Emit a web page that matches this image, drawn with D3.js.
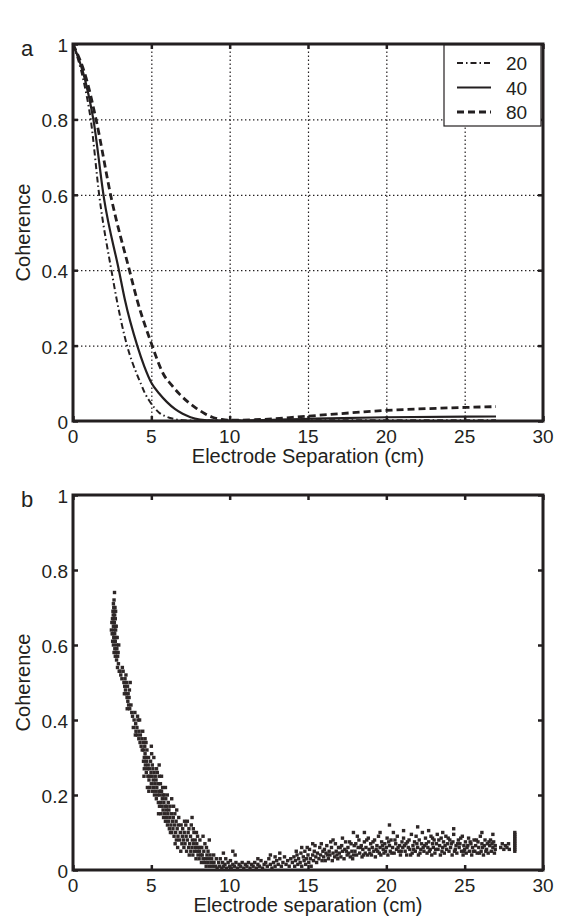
<!DOCTYPE html>
<html><head><meta charset="utf-8">
<script src="https://cdn.jsdelivr.net/npm/d3@7"></script>
<style>
body{margin:0;background:#fff;}
text{font-family:"Liberation Sans",Arial,Helvetica,sans-serif;fill:#231f20;}
</style>
</head><body>
<svg id="c" width="562" height="921"></svg>
<script>
// ---------- data ----------
const xTicks = [0, 5, 10, 15, 20, 25, 30];
const yTicks = [0, 0.2, 0.4, 0.6, 0.8, 1];
const yTickLabels = ["0", "0.2", "0.4", "0.6", "0.8", "1"];
const legendLabels = ["20", "40", "80"];

const sep20 = [0, 0.66, 1.13, 1.7, 2.45, 2.8, 3.45, 3.75, 4.06, 4.35, 4.6, 4.85, 5.1, 5.5, 6.0, 6.5, 7.0, 8.0, 10, 15, 20, 27];
const coh20 = [1, 0.905, 0.8, 0.59, 0.4, 0.32, 0.2, 0.16, 0.126, 0.097, 0.073, 0.055, 0.04, 0.022, 0.011, 0.005, 0.002, 0.001, 0.001, 0.002, 0.002, 0.002];

const sep40 = [0, 0.77, 1.3, 1.98, 2.93, 3.32, 4.1, 4.55, 5.02, 5.5, 6.0, 6.5, 7.0, 7.5, 8.1, 9.0, 10, 15, 20, 27];
const coh40 = [1, 0.905, 0.8, 0.59, 0.4, 0.32, 0.2, 0.145, 0.1, 0.073, 0.05, 0.032, 0.019, 0.01, 0.004, 0.001, 0.001, 0.006, 0.01, 0.012];

const sep80 = [0, 0.87, 1.47, 2.45, 3.6, 4.1, 5.05, 5.4, 5.75, 6.3, 6.83, 7.35, 7.9, 8.4, 8.9, 9.5, 10, 12, 15, 20, 25, 27];
const coh80 = [1, 0.905, 0.8, 0.59, 0.4, 0.32, 0.2, 0.16, 0.126, 0.095, 0.07, 0.05, 0.033, 0.02, 0.01, 0.004, 0.002, 0.004, 0.013, 0.028, 0.036, 0.038];

const scatterPoints = [
[2.65,0.74],[2.62,0.72],[2.58,0.71],[2.6,0.70],[2.55,0.69],[2.63,0.69],[2.57,0.68],[2.66,0.68],[2.52,0.67],[2.6,0.67],[2.7,0.67],[2.55,0.66],[2.64,0.66],[2.58,0.65],[2.68,0.65],[2.62,0.64],[2.72,0.64],[2.56,0.63],[2.66,0.63],[2.6,0.62],[2.75,0.62],[2.64,0.61],[2.7,0.61],[2.58,0.60],[2.78,0.60],[2.67,0.59],[2.62,0.58],[2.74,0.58],[2.8,0.59],[2.7,0.57],[2.85,0.57],[2.78,0.56],[2.9,0.55],[2.84,0.54],[2.95,0.53],
[2.48,0.66],[2.5,0.63],[2.53,0.61],[2.68,0.70],[2.72,0.69],[2.76,0.65],[2.82,0.62],[2.88,0.58],[2.92,0.6],[2.45,0.64],
[3.0,0.53],[3.05,0.52],[3.12,0.51],[3.2,0.53],[3.25,0.50],[3.3,0.49],[3.35,0.48],[3.32,0.51],[3.4,0.47],[3.42,0.50],[3.45,0.46],[3.48,0.49],[3.5,0.45],[3.52,0.47],[3.55,0.44],[3.58,0.46],[3.62,0.43],[3.6,0.48],[3.38,0.52],[3.7,0.44],[3.75,0.42],[3.8,0.41],
[3.15,0.54],[3.28,0.47],[3.46,0.43],[3.65,0.5],[3.85,0.38],[3.98,0.36],[4.25,0.4],[4.45,0.37],
[3.9,0.40],[3.95,0.42],[4.0,0.39],[4.02,0.37],[4.08,0.38],[4.1,0.36],[4.15,0.40],[4.2,0.35],[4.22,0.37],[4.28,0.34],[4.3,0.36],[4.35,0.33],[4.4,0.35],[4.42,0.32],[4.12,0.41],
[4.5,0.34],[4.52,0.32],[4.55,0.30],[4.5,0.29],[4.58,0.33],[4.6,0.31],[4.62,0.28],[4.55,0.27],[4.65,0.30],[4.68,0.26],[4.7,0.29],[4.72,0.32],[4.75,0.27],[4.78,0.25],[4.8,0.28],[4.82,0.30],[4.85,0.24],[4.88,0.27],[4.9,0.25],[4.92,0.22],[4.95,0.29],[4.98,0.26],[5.0,0.23],[5.02,0.31],[5.05,0.25],[5.08,0.21],[5.1,0.27],[5.12,0.24],[5.15,0.22],[5.18,0.26],[5.2,0.20],[5.22,0.23],[5.25,0.25],[5.28,0.21],[4.6,0.35],[5.0,0.33],[4.75,0.22],
[4.53,0.25],[4.66,0.34],[4.84,0.21],[5.06,0.28],[5.16,0.3],[5.33,0.27],[5.46,0.15],[5.6,0.21],[5.74,0.2],[5.9,0.22],
[5.3,0.24],[5.32,0.19],[5.35,0.22],[5.38,0.26],[5.4,0.20],[5.42,0.23],[5.45,0.18],[5.48,0.21],[5.5,0.25],[5.52,0.17],[5.55,0.20],[5.58,0.23],[5.6,0.18],[5.62,0.15],[5.65,0.21],[5.68,0.17],[5.7,0.19],[5.72,0.22],[5.75,0.16],[5.78,0.14],[5.8,0.18],[5.82,0.20],[5.85,0.15],[5.88,0.17],[5.9,0.13],[5.92,0.19],[5.95,0.16],[5.98,0.14],[5.5,0.28],[5.65,0.25],
[6.0,0.17],[6.03,0.12],[6.05,0.15],[6.08,0.18],[6.1,0.13],[6.12,0.16],[6.15,0.11],[6.18,0.14],[6.2,0.17],[6.25,0.12],[6.28,0.15],[6.3,0.10],[6.35,0.13],[6.38,0.11],[6.4,0.14],[6.45,0.09],[6.48,0.12],[6.5,0.15],[6.55,0.10],[6.58,0.13],[6.6,0.08],[6.65,0.11],[6.7,0.09],[6.72,0.12],[6.75,0.14],[6.8,0.08],[6.85,0.10],[6.9,0.12],[6.95,0.07],[6.98,0.09],[6.62,0.16],[6.3,0.19],
[6.02,0.2],[6.22,0.1],[6.42,0.17],[6.52,0.07],[6.68,0.06],[6.88,0.05],[7.12,0.13],[7.42,0.04],[7.68,0.11],[7.88,0.1],[8.12,0.06],[8.52,0.06],
[7.0,0.11],[7.05,0.08],[7.08,0.06],[7.1,0.10],[7.15,0.07],[7.2,0.12],[7.22,0.09],[7.25,0.05],[7.3,0.08],[7.35,0.10],[7.38,0.06],[7.4,0.11],[7.45,0.07],[7.5,0.09],[7.52,0.05],[7.55,0.12],[7.6,0.06],[7.62,0.08],[7.65,0.04],[7.7,0.07],[7.72,0.10],[7.75,0.05],[7.8,0.08],[7.82,0.06],[7.85,0.03],[7.9,0.07],[7.92,0.05],[7.95,0.09],[7.98,0.04],[7.6,0.14],[7.3,0.13],
[8.0,0.06],[8.05,0.03],[8.08,0.05],[8.1,0.08],[8.15,0.04],[8.2,0.02],[8.22,0.06],[8.25,0.04],[8.3,0.03],[8.35,0.05],[8.4,0.02],[8.42,0.07],[8.45,0.03],[8.5,0.01],[8.55,0.04],[8.6,0.02],[8.62,0.05],[8.65,0.03],[8.7,0.01],[8.75,0.04],[8.8,0.02],[8.85,0.03],[8.9,0.01],[8.95,0.02],[8.98,0.04],[8.7,0.08],[8.3,0.09],
[9.0,0.02],[9.1,0.01],[9.15,0.03],[9.2,0.005],[9.3,0.02],[9.35,0.01],[9.4,0.03],[9.5,0.005],[9.55,0.02],[9.6,0.01],[9.7,0.015],[9.75,0.03],[9.8,0.005],[9.9,0.02],[10.0,0.01],[10.05,0.025],[10.1,0.005],[10.2,0.015],[10.3,0.01],[10.35,0.04],[10.4,0.02],[10.5,0.005],[10.6,0.015],[10.7,0.01],[10.8,0.02],[10.9,0.005],[11.0,0.015],[11.1,0.01],[11.2,0.02],[11.3,0.005],[11.4,0.015],[10.2,0.05],[9.6,0.045],
[11.5,0.01],[11.6,0.02],[11.7,0.005],[11.8,0.015],[11.9,0.01],[12.0,0.025],[12.1,0.005],[12.2,0.015],[12.3,0.02],[12.4,0.01],[12.5,0.03],[12.6,0.015],[12.7,0.005],[12.8,0.02],[12.9,0.01],[13.0,0.025],[13.1,0.015],[13.2,0.03],[13.3,0.01],[13.4,0.02],[13.5,0.035],[13.6,0.015],[13.7,0.025],[13.8,0.01],[13.9,0.03],[12.6,0.04],[13.2,0.045],[11.8,0.03],[12.9,0.035],
[14.0,0.02],[14.1,0.035],[14.15,0.01],[14.2,0.025],[14.3,0.04],[14.35,0.015],[14.4,0.03],[14.5,0.02],[14.55,0.045],[14.6,0.01],[14.7,0.035],[14.75,0.025],[14.8,0.05],[14.85,0.015],[14.9,0.03],[15.0,0.04],[15.05,0.02],[15.1,0.055],[15.15,0.03],[15.2,0.01],[15.3,0.04],[15.35,0.025],[15.4,0.05],[15.5,0.035],[15.55,0.02],[15.6,0.045],[15.7,0.03],[15.75,0.06],[15.8,0.04],[15.9,0.025],[15.95,0.05],[14.6,0.06],[15.3,0.07],
[14.25,0.05],[14.95,0.06],[15.45,0.065],[15.85,0.07],
[16.0,0.035],[16.05,0.055],[16.1,0.025],[16.15,0.045],[16.2,0.065],[16.3,0.03],[16.35,0.05],[16.4,0.04],[16.5,0.06],[16.55,0.025],[16.6,0.045],[16.7,0.035],[16.75,0.07],[16.8,0.05],[16.9,0.03],[16.95,0.06],[17.0,0.045],[17.1,0.035],[17.15,0.065],[17.2,0.05],[17.3,0.03],[17.35,0.055],[17.4,0.075],[17.5,0.04],[17.55,0.06],[17.6,0.045],[17.7,0.035],[17.75,0.07],[17.8,0.05],[17.9,0.04],[17.95,0.065],[17.2,0.085],[17.9,0.1],[16.6,0.08],
[16.25,0.04],[16.45,0.075],[16.85,0.04],[17.05,0.06],[17.45,0.05],[17.65,0.075],[17.85,0.03],
[18.0,0.05],[18.05,0.07],[18.1,0.04],[18.2,0.06],[18.25,0.08],[18.3,0.045],[18.4,0.065],[18.45,0.035],[18.5,0.055],[18.6,0.075],[18.65,0.045],[18.7,0.06],[18.8,0.04],[18.85,0.085],[18.9,0.055],[19.0,0.07],[19.05,0.04],[19.1,0.06],[19.2,0.05],[19.25,0.08],[19.3,0.035],[19.4,0.065],[19.45,0.05],[19.5,0.09],[19.6,0.06],[19.65,0.04],[19.7,0.075],[19.8,0.055],[19.85,0.045],[19.9,0.07],[20.0,0.06],[20.05,0.085],[20.1,0.04],[20.2,0.065],[20.25,0.05],[20.3,0.08],[20.4,0.06],[20.45,0.1],[19.6,0.1],[20.2,0.12],[18.6,0.1],
[18.15,0.09],[18.35,0.06],[18.55,0.04],[18.75,0.08],[18.95,0.045],[19.15,0.075],[19.35,0.055],[19.55,0.045],[19.75,0.065],[19.95,0.05],[20.15,0.075],[20.35,0.045],
[20.5,0.045],[20.6,0.07],[20.65,0.055],[20.7,0.09],[20.8,0.05],[20.85,0.065],[20.9,0.04],[21.0,0.075],[21.05,0.06],[21.1,0.085],[21.2,0.05],[21.25,0.07],[21.3,0.04],[21.4,0.06],[21.45,0.08],[21.5,0.055],[21.6,0.095],[21.65,0.045],[21.7,0.065],[21.8,0.075],[21.85,0.05],[21.9,0.09],[22.0,0.06],[22.05,0.04],[22.1,0.08],[22.2,0.055],[22.25,0.07],[22.3,0.1],[22.4,0.05],[22.45,0.065],[22.5,0.085],[22.6,0.045],[22.65,0.06],[22.7,0.075],[22.8,0.055],[22.85,0.09],[22.9,0.04],[22.95,0.07],[22.0,0.115],[21.1,0.105],[22.7,0.105],
[20.55,0.08],[20.75,0.06],[20.95,0.05],[21.15,0.065],[21.35,0.075],[21.55,0.04],[21.75,0.055],[21.95,0.07],[22.15,0.045],[22.35,0.06],[22.55,0.07],[22.75,0.05],[22.95,0.085],
[23.0,0.06],[23.05,0.08],[23.1,0.045],[23.2,0.07],[23.25,0.095],[23.3,0.055],[23.4,0.065],[23.45,0.04],[23.5,0.085],[23.6,0.06],[23.65,0.075],[23.7,0.045],[23.8,0.09],[23.85,0.055],[23.9,0.07],[24.0,0.05],[24.05,0.08],[24.1,0.06],[24.2,0.04],[24.25,0.075],[24.3,0.095],[24.4,0.055],[24.45,0.065],[24.5,0.045],[24.6,0.08],[24.65,0.06],[24.7,0.07],[24.8,0.05],[24.85,0.09],[24.9,0.04],[24.95,0.065],[23.6,0.1],[24.3,0.11],
[23.15,0.055],[23.35,0.08],[23.55,0.05],[23.75,0.065],[23.95,0.085],[24.15,0.07],[24.35,0.05],[24.55,0.07],[24.75,0.085],[24.95,0.05],
[25.0,0.055],[25.05,0.075],[25.1,0.045],[25.2,0.065],[25.25,0.085],[25.3,0.05],[25.4,0.07],[25.45,0.04],[25.5,0.06],[25.6,0.08],[25.65,0.05],[25.7,0.065],[25.8,0.045],[25.85,0.075],[25.9,0.06],[26.0,0.09],[26.05,0.05],[26.1,0.07],[26.2,0.04],[26.25,0.065],[26.3,0.08],[26.4,0.055],[26.45,0.07],[26.5,0.045],[26.6,0.065],[26.65,0.08],[26.7,0.05],[26.8,0.06],[26.85,0.075],[26.9,0.045],[26.95,0.065],[26.1,0.1],[26.8,0.095],
[25.15,0.06],[25.35,0.075],[25.55,0.05],[25.75,0.08],[25.95,0.045],[26.15,0.06],[26.35,0.05],[26.55,0.075],[26.75,0.07],[26.95,0.055],
[27.3,0.06],[27.4,0.07],[27.5,0.055],[27.6,0.065],[27.7,0.06],[27.8,0.07],[27.85,0.055],
[28.2,0.05],[28.2,0.055],[28.2,0.06],[28.2,0.065],[28.2,0.07],[28.2,0.075],[28.2,0.08],[28.2,0.085],[28.2,0.09],[28.2,0.095],[28.2,0.1]
];

// ---------- drawing ----------
const ink = "#231f20";
const svg = d3.select("#c");
const x = d3.scaleLinear().domain([0, 30]).range([73, 543]);
const yTop = d3.scaleLinear().domain([0, 1]).range([421, 44]);
const yBot = d3.scaleLinear().domain([0, 1]).range([870, 495]);

function panel(y, letter, xTitle, withGrid) {
  const g = svg.append("g");
  const [y0, y1] = y.range();
  const [x0, x1] = x.range();
  if (withGrid) {
    g.append("g").attr("transform", `translate(0,${y0})`)
      .call(d3.axisBottom(x).tickValues(xTicks.slice(1, -1)).tickSize(-(y0 - y1)).tickFormat(""))
      .call(s => s.select(".domain").remove())
      .selectAll("line").attr("stroke", ink).attr("stroke-width", 1.2).attr("stroke-dasharray", "1.4,2.6");
    g.append("g").attr("transform", `translate(${x0},0)`)
      .call(d3.axisLeft(y).tickValues(yTicks.slice(1, -1)).tickSize(-(x1 - x0)).tickFormat(""))
      .call(s => s.select(".domain").remove())
      .selectAll("line").attr("stroke", ink).attr("stroke-width", 1.2).attr("stroke-dasharray", "1.4,2.6");
  }
  const tk = 5;
  const axes = [
    [d3.axisBottom(x).tickValues(xTicks), `translate(0,${y0})`],
    [d3.axisTop(x).tickValues(xTicks), `translate(0,${y1})`],
    [d3.axisLeft(y).tickValues(yTicks), `translate(${x0},0)`],
    [d3.axisRight(y).tickValues(yTicks), `translate(${x1},0)`]
  ];
  axes.forEach(([ax, tr]) => {
    g.append("g").attr("transform", tr)
      .call(ax.tickSize(-tk).tickFormat(""))
      .call(s => s.select(".domain").remove())
      .selectAll("line").attr("stroke", ink).attr("stroke-width", 2.5);
  });
  g.append("rect").attr("x", x0).attr("y", y1).attr("width", x1 - x0).attr("height", y0 - y1)
    .attr("fill", "none").attr("stroke", ink).attr("stroke-width", 3);
  g.selectAll("text.xt").data(xTicks).enter().append("text")
    .attr("x", d => x(d)).attr("y", y0 + 22).attr("text-anchor", "middle")
    .attr("font-size", 19).text(d => d);
  g.selectAll("text.yt").data(yTicks).enter().append("text")
    .attr("x", x0 - 5).attr("y", d => y(d) + 8).attr("text-anchor", "end")
    .attr("font-size", 19).text((d, i) => yTickLabels[i]);
  g.append("text").attr("x", (x0 + x1) / 2).attr("y", y0 + 42).attr("text-anchor", "middle")
    .attr("font-size", 20).text(xTitle);
  g.append("text").attr("transform", `translate(30,${(y0 + y1) / 2}) rotate(-90)`)
    .attr("text-anchor", "middle").attr("font-size", 20).text("Coherence");
  g.append("text").attr("x", 27).attr("y", y1 + 12).attr("text-anchor", "middle")
    .attr("font-size", 22).text(letter);
  return g;
}

// panel a
const ga = panel(yTop, "a", "Electrode Separation (cm)", true);
const series = [
  {sep: sep20, coh: coh20, dash: "6,3,1.5,3", w: 2},
  {sep: sep40, coh: coh40, dash: null, w: 2.2},
  {sep: sep80, coh: coh80, dash: "7,4", w: 2.8}
];
const lineA = d3.line().x(d => x(d[0])).y(d => yTop(d[1])).curve(d3.curveMonotoneX);
series.forEach(s => {
  ga.append("path").datum(s.sep.map((v, i) => [v, s.coh[i]]))
    .attr("d", lineA).attr("fill", "none").attr("stroke", ink)
    .attr("stroke-width", s.w).attr("stroke-dasharray", s.dash);
});
const lg = ga.append("g");
lg.append("rect").attr("x", 444).attr("y", 45).attr("width", 97).attr("height", 81)
  .attr("fill", "#fff").attr("stroke", ink).attr("stroke-width", 1.2);
legendLabels.forEach((lab, i) => {
  const ly = 63 + i * 24.5;
  lg.append("line").attr("x1", 457).attr("x2", 491).attr("y1", ly).attr("y2", ly)
    .attr("stroke", ink).attr("stroke-width", series[i].w).attr("stroke-dasharray", series[i].dash);
  lg.append("text").attr("x", 506).attr("y", ly + 7).attr("font-size", 19).text(lab);
});

// panel b
const gb = panel(yBot, "b", "Electrode separation (cm)", false);
gb.selectAll("rect.pt").data(scatterPoints).enter().append("rect")
  .attr("class", "pt")
  .attr("x", d => x(d[0]) - 1.7).attr("y", d => yBot(d[1]) - 1.7)
  .attr("width", 3.4).attr("height", 3.4).attr("fill", "#2e2727");
</script>
</body></html>
